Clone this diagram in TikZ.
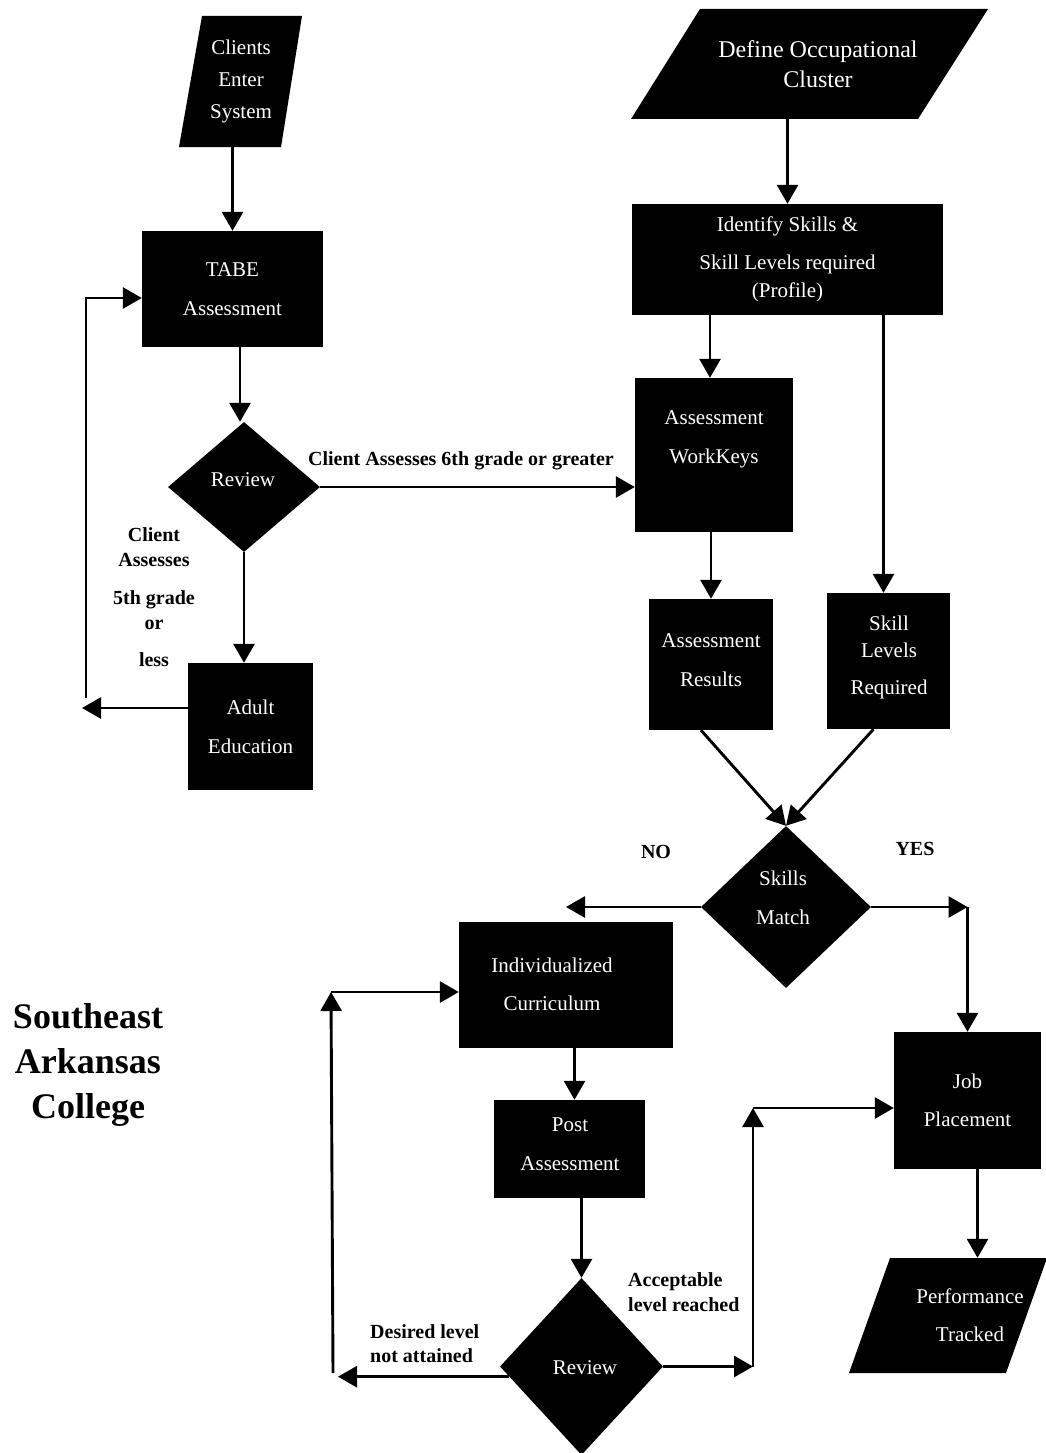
\documentclass[tikz,border=0pt]{standalone}
\usepackage{fontspec}
\setmainfont{Liberation Serif}
\usetikzlibrary{arrows.meta,shapes.geometric}
\tikzset{
  box/.style={fill=black, inner sep=0pt, text=white, align=center, font=\fontsize{21}{39}\selectfont},
  wt/.style={text=white, align=center, inner sep=0pt, font=\fontsize{21}{39}\selectfont},
  dia/.style={diamond, fill=black, inner sep=0pt},
  lbl/.style={font=\bfseries\fontsize{20}{25}\selectfont, align=center, inner sep=0pt},
  arr/.style={line width=2.9pt, -{Triangle[length=19pt,width=21pt]}},
}
\begin{document}
\begin{tikzpicture}[x=1pt,y=-1pt]
\fill[white] (0,0) rectangle (1045,1453);
\useasboundingbox (0,0) rectangle (1045,1453);

% ---------- left column ----------
\fill[black] (202,16) -- (302,16) -- (281,147) -- (179,147) -- cycle;
\node[wt, minimum height=131, font=\fontsize{21}{32}\selectfont] (ces) at (241,81.5) {Clients\\Enter\\System};

\node[box, minimum width=181, minimum height=116] (tabe) at (232.5,289) {TABE\\Assessment};

\node[dia, minimum width=152, minimum height=130] (rev1) at (244,487) {};
\node[wt] (rev1t) at (243,480) {Review};

\node[box, minimum width=125, minimum height=127] (adult) at (250.5,726.5) {Adult\\Education};

\node[lbl, font=\bfseries\fontsize{20}{25}\selectfont] (l5) at (154,597) {Client\\Assesses\\[13pt]5th grade\\or\\[12pt]less};
\node[lbl] (l6) at (461,461) {Client Assesses 6th grade or greater};

\coordinate (aeout) at (82,708);
\coordinate (loopb) at (86,698);

\draw[arr] (ces.south -| tabe.north) -- (tabe.north);
\draw[arr] ([xshift=-4pt]tabe.south -| rev1.north) -- ([xshift=-4pt]rev1.north);
\draw[arr] (rev1.south) -- (rev1.south |- adult.north);
\draw[arr] (adult.west |- aeout) -- (aeout);
\draw[arr] (loopb) |- ([yshift=-9pt]tabe.west);

% ---------- right column ----------
\fill[black] (700,9) -- (988,9) -- (918,119) -- (631,119) -- cycle;
\node[wt, minimum height=110, font=\fontsize{24}{30}\selectfont] (doc) at (818,64) {Define Occupational\\Cluster};

\node[box, minimum width=311, minimum height=111, font=\fontsize{21}{28}\selectfont] (isk) at (787.5,259.5) {Identify Skills \&\\[10pt]Skill Levels required\\(Profile)};

\node[box, minimum width=158, minimum height=154] (wk) at (714,455) {};
\node[wt] (wkt) at (714,439) {Assessment\\WorkKeys};

\node[box, minimum width=124, minimum height=131] (ar) at (711,664.5) {};
\node[wt] (art) at (711,660.5) {Assessment\\Results};

\node[box, minimum width=123, minimum height=136] (slr) at (888.5,661) {};
\node[wt, font=\fontsize{21}{27}\selectfont] (slrt) at (889,657) {Skill\\Levels\\[10pt]Required};

\node[dia, minimum width=170, minimum height=162] (sm) at (786,907) {};
\node[wt] (smt) at (783,897.5) {Skills\\Match};

\node[lbl] (no) at (656,852) {NO};
\node[lbl] (yes) at (915,849) {YES};

\draw[arr] (doc.south -| isk.north) -- (isk.north);
\draw[arr] ([xshift=-4pt]isk.south -| wk.north) -- ([xshift=-4pt]wk.north);
\draw[arr] ([xshift=-5pt]isk.south -| slr.north) -- ([xshift=-5pt]slr.north);
\draw[arr] (rev1.east) -- (rev1.east -| wk.west);
\draw[arr] (wk.south -| ar.north) -- (ar.north);
\draw[arr] ([xshift=-10pt]ar.south) -- (sm.north);
\draw[arr] ([xshift=-15pt]slr.south) -- (sm.north);

% ---------- bottom ----------
\node[box, minimum width=214, minimum height=126] (ic) at (566,985) {};
\node[wt, font=\fontsize{21}{38}\selectfont] (ict) at (552,984) {Individualized\\Curriculum};

\node[box, minimum width=151, minimum height=98] (pa) at (569.5,1149) {};
\node[wt] (pat) at (570,1144.5) {Post\\Assessment};

\node[dia, minimum width=163, minimum height=177] (rev2) at (581.5,1366.5) {};
\node[wt] (rev2t) at (585,1368) {Review};

\node[box, minimum width=147, minimum height=137, font=\fontsize{21}{38}\selectfont] (jp) at (967.5,1100.5) {Job\\Placement};

\fill[black] (890,1258) -- (1047,1258) -- (1006,1373) -- (849,1373) -- cycle;
\node[wt, minimum height=115, font=\fontsize{21}{38}\selectfont] (pt) at (970,1315.5) {Performance\\Tracked};

\node[lbl, align=left, anchor=west, font=\bfseries\fontsize{20}{24}\selectfont] (dlt) at (370,1344) {Desired level\\not attained};
\node[lbl, align=left, anchor=west] (alr) at (628,1292.5) {Acceptable\\level reached};

\node[font=\bfseries\fontsize{36}{45}\selectfont, align=center, inner sep=0pt] (sac) at (88,1065) {Southeast\\Arkansas\\College};

\coordinate (dl) at (338,1377);
\coordinate (dlb) at (333,1373);
\coordinate (dltop) at (331,992);
\coordinate (ar2) at (753,1368);
\coordinate (ar2t) at (753,1108);

\draw[arr] (sm.west) -- (sm.west -| ic.north);
\draw[arr] (sm.east) -- (sm.east -| jp.north);
\draw[arr] (sm.east -| jp.north) -- (jp.north);
\draw[arr] ([xshift=5pt]ic.south -| pa.north) -- ([xshift=5pt]pa.north);
\draw[arr] (pa.south -| rev2.north) -- (rev2.north);
\draw[arr] (rev2.188) -- (rev2.188 -| dl);
\draw[arr] (dlb) -- (dltop);
\draw[arr] (dltop) -- (dltop -| ic.west);
\draw[arr] (rev2.east) -- (rev2.east -| ar2);
\draw[arr] (rev2.east -| ar2) -- (ar2t);
\draw[arr] (ar2t) -- (ar2t -| jp.west);
\draw[arr] ([xshift=10pt]jp.south) -- ([xshift=10pt]jp.south |- pt.north);
\end{tikzpicture}
\end{document}
